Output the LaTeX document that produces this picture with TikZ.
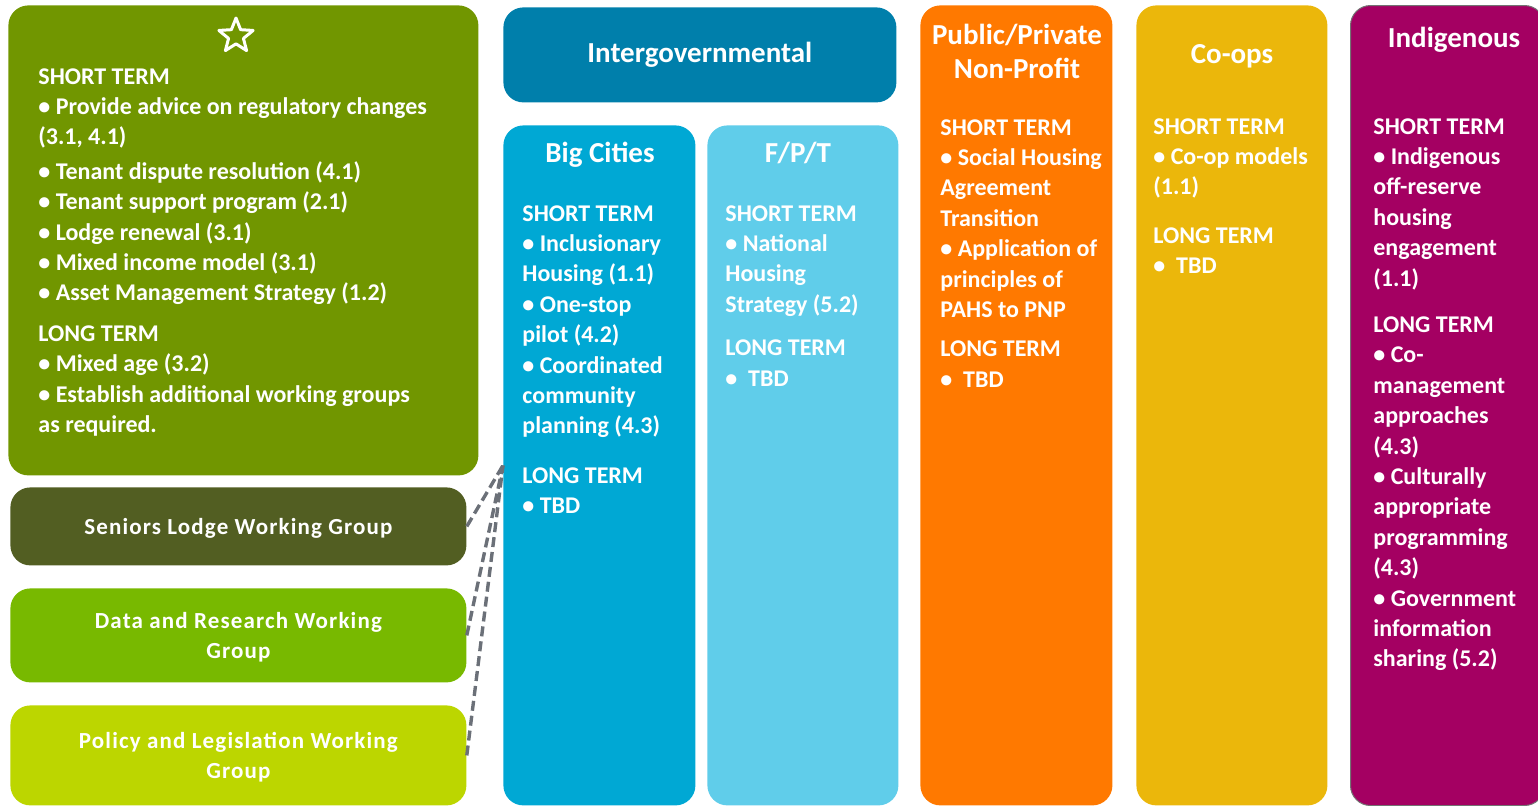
\documentclass[tikz,border=0pt]{standalone}
\usepackage{fontspec}
\setmainfont{Carlito}
\newfontfamily\wgfont{Carlito}[LetterSpace=5]
\usetikzlibrary{shapes.geometric}

\definecolor{leadgreen}{RGB}{113,150,0}
\definecolor{seniorsgreen}{RGB}{82,94,34}
\definecolor{datagreen}{RGB}{120,185,0}
\definecolor{policygreen}{RGB}{188,214,0}
\definecolor{intergovblue}{RGB}{0,127,171}
\definecolor{citiesblue}{RGB}{0,168,212}
\definecolor{fptblue}{RGB}{96,205,234}
\definecolor{pnporange}{RGB}{255,121,0}
\definecolor{coopyellow}{RGB}{235,183,11}
\definecolor{indigpurple}{RGB}{164,0,98}
\definecolor{linkgray}{RGB}{107,112,120}

\begin{document}
\begin{tikzpicture}[x=0.5pt, y=-0.5pt]
\tikzset{
  box/.style={rounded corners=10pt, inner sep=0pt, anchor=north west},
  col/.style={box, minimum width=96pt},
  hd/.style={font=\fontsize{14.5}{17}\selectfont\bfseries, text=white, align=center, inner sep=0pt},
  body/.style={font=\fontsize{12}{15.2}\selectfont\bfseries, text=white, anchor=north west, align=left, inner sep=0pt},
  wg/.style={font=\wgfont\fontsize{11.5}{14.75}\selectfont\bfseries, text=white, align=center, text depth=0pt},
  link/.style={draw=linkgray, line width=1.7pt, dash pattern=on 5pt off 2.5pt}}
\useasboundingbox (0,0) rectangle (1538,805);

% ---------------- lead group with its working groups ----------------
\node[box, fill=leadgreen, minimum width=235pt, minimum height=235pt] (lead) at (8,5) {};
\node[star, star points=5, star point ratio=2.3, draw=white, line width=1.5pt, line join=round,
      minimum size=18pt, inner sep=0pt] (leadstar) at (236,36) {};
\node[body] (leadtxt) at (38,68) {SHORT TERM\\
  • Provide advice on regulatory changes\\
  (3.1, 4.1)\\[2pt]
  • Tenant dispute resolution (4.1)\\
  • Tenant support program (2.1)\\
  • Lodge renewal (3.1)\\
  • Mixed income model (3.1)\\
  • Asset Management Strategy (1.2)\\[5pt]
  LONG TERM\\
  • Mixed age (3.2)\\
  • Establish additional working groups\\
  as required.};

\node[box, wg, fill=seniorsgreen, minimum width=228pt, minimum height=39pt] (seniors) at (10,487) {Seniors Lodge Working Group};
\node[box, wg, fill=datagreen, minimum width=228pt, minimum height=47pt] (data) at (10,588) {Data and Research Working\\Group};
\node[box, wg, fill=policygreen, minimum width=228pt, minimum height=50pt] (policy) at (10,705) {Policy and Legislation Working\\Group};

% ---------------- intergovernmental ----------------
\node[box, hd, fill=intergovblue, minimum width=196.5pt, minimum height=47.5pt] (intergov) at (503,7) {Intergovernmental};

\node[col, fill=citiesblue, minimum height=340pt] (cities) at (503,125) {};
\node[hd, anchor=base] (citieshd) at (600,162) {Big Cities};
\node[body] (citiestxt) at (522,205) {SHORT TERM\\
  • Inclusionary\\
  Housing (1.1)\\
  • One-stop\\
  pilot (4.2)\\
  • Coordinated\\
  community\\
  planning (4.3)\\[9.5pt]
  LONG TERM\\
  • TBD};

\node[col, fill=fptblue, minimum width=95.5pt, minimum height=340pt] (fpt) at (707,125) {};
\node[hd, anchor=base] (fpthd) at (798,162) {F/P/T};
\node[body] (fpttxt) at (725,205) {SHORT TERM\\
  • National\\
  Housing\\
  Strategy (5.2)\\[6.5pt]
  LONG TERM\\
  •\ \ TBD};

% ---------------- other partners ----------------
\node[col, fill=pnporange, minimum height=400pt] (pnp) at (920,5) {};
\node[hd, anchor=base] (pnphd) at (1017,78) {Public/Private\\Non-Profit};
\node[body] (pnptxt) at (940,119) {SHORT TERM\\
  • Social Housing\\
  Agreement\\
  Transition\\
  • Application of\\
  principles of\\
  PAHS to PNP\\[4.5pt]
  LONG TERM\\
  •\ \ TBD};

\node[col, fill=coopyellow, minimum width=95.5pt, minimum height=400pt] (coops) at (1136,5) {};
\node[hd, anchor=base] (coopshd) at (1232,63) {Co-ops};
\node[body] (coopstxt) at (1153,118) {SHORT TERM\\
  • Co-op models\\
  (1.1)\\[9pt]
  LONG TERM\\
  •\ \ TBD};

\node[col, fill=indigpurple, draw=black!55, line width=0.5pt, minimum width=97pt, minimum height=400pt] (indig) at (1350,5) {};
\node[hd, anchor=base] (indighd) at (1454,47) {Indigenous};
\node[body] (indigtxt) at (1373,118) {SHORT TERM\\
  • Indigenous\\
  off-reserve\\
  housing\\
  engagement\\
  (1.1)\\[8pt]
  LONG TERM\\
  • Co-\\
  management\\
  approaches\\
  (4.3)\\
  • Culturally\\
  appropriate\\
  programming\\
  (4.3)\\
  • Government\\
  information\\
  sharing (5.2)};

% ---------------- working group links ----------------
\draw[link] (seniors.east) -- (cities.west);
\draw[link] (data.east) -- (cities.west);
\draw[link] (policy.east) -- (cities.west);
\end{tikzpicture}
\end{document}
